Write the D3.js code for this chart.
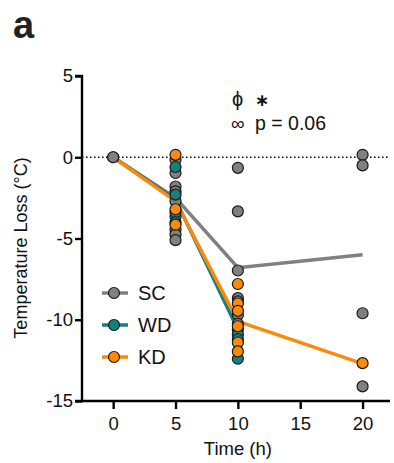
<!DOCTYPE html>
<html>
<head>
<meta charset="utf-8">
<script src="https://cdn.jsdelivr.net/npm/d3@7"></script>
<style>
  body { margin: 0; background: #fff; }
  text { font-family: "Liberation Sans", Arial, sans-serif; fill: #111; }
</style>
</head>
<body>
<div id="chart"></div>
<script>
// time points (h) and tick labels
const xTicks = [0, 5, 10, 15, 20];
const yTicks = [5, 0, -5, -10, -15];

// group means (line)
const scTimes = [0, 5, 10, 20];
const scMean = [0, -2.5, -6.8, -6.0];
const wdTimes = [0, 5, 10];
const wdMean = [0, -2.6, -10.6];
const kdTimes = [0, 5, 10, 20];
const kdMean = [0, -2.7, -10.1, -12.7];

// individual animals, by time
const sc5 = [-0.15, -0.97, -1.8, -2.1, -2.7, -3.65, -4.45, -4.75, -5.1];
const wd5 = [-0.6, -2.3, -3.4, -4.0];
const kd5 = [0.15, -3.2, -4.15];
const sc10 = [-0.65, -3.33, -6.97, -8.67, -8.87, -9.7, -10.25];
const wd10 = [-10.6, -10.9, -11.2, -12.4];
const kd10 = [-7.8, -9.0, -9.45, -10.4, -11.4, -11.95];
const sc20 = [0.15, -0.5, -9.6, -14.1];
const kd20 = [-12.67];

const groups = [
  {name: "SC", color: "#808080", times: scTimes, mean: scMean, pts: [[0, [0]], [5, sc5], [10, sc10], [20, sc20]]},
  {name: "WD", color: "#15807d", times: wdTimes, mean: wdMean, pts: [[5, wd5], [10, wd10]]},
  {name: "KD", color: "#fb8a0c", times: kdTimes, mean: kdMean, pts: [[5, kd5], [10, kd10], [20, kd20]]}
];

const W = 394, H = 463;
const svg = d3.select("#chart").append("svg").attr("width", W).attr("height", H);

const x = d3.scaleLinear().domain([-2.5, 22.2]).range([82, 390]);
const y = d3.scaleLinear().domain([-15, 5]).range([401, 76]);

// panel letter
svg.append("text").attr("x", 13).attr("y", 38)
  .style("font-size", "38px").style("font-weight", "bold").style("fill", "#222").text("a");

// zero reference line
svg.append("line")
  .attr("x1", x(-2.5)).attr("x2", x(22.2))
  .attr("y1", y(0)).attr("y2", y(0))
  .attr("stroke", "#000").attr("stroke-width", 1.4).attr("stroke-dasharray", "1.5,2.5");

// axes
const xAxis = d3.axisBottom(x).tickValues(xTicks).tickSize(8).tickPadding(8);
const yAxis = d3.axisLeft(y).tickValues(yTicks).tickSize(7).tickPadding(2)
  .tickFormat(d => d < 0 ? "-" + Math.abs(d) : d);

const gx = svg.append("g").attr("transform", `translate(0,${y(-15)})`).call(xAxis);
const gy = svg.append("g").attr("transform", `translate(${x(-2.5)},0)`).call(yAxis);
[gx, gy].forEach(g => {
  g.select(".domain").attr("stroke", "#000").attr("stroke-width", 2.4);
  g.selectAll(".tick line").attr("stroke", "#000").attr("stroke-width", 2.4);
  g.selectAll(".tick text").style("font-size", "18.5px").style("font-family", "Liberation Sans, Arial, sans-serif").attr("fill", "#111");
});
gy.select(".domain").attr("d", `M-7,${y(5)}H0V${y(-15)}H-7`);
gx.select(".domain").attr("d", `M${x(-2.5)},0H${x(22.2)}`);

// axis titles
svg.append("text").attr("x", x(10)).attr("y", 455).attr("text-anchor", "middle")
  .style("font-size", "18.5px").text("Time (h)");
svg.append("text").attr("transform", `translate(27,248) rotate(-90)`).attr("text-anchor", "middle")
  .style("font-size", "18px").text("Temperature Loss (°C)");

// mean lines
const line = d3.line().x(d => x(d[0])).y(d => y(d[1]));
groups.forEach(g => {
  svg.append("path").datum(g.times.map((t, i) => [t, g.mean[i]]))
    .attr("d", line).attr("fill", "none").attr("stroke", g.color).attr("stroke-width", 3.5);
});

// individual points
groups.forEach(g => {
  const flat = [];
  g.pts.forEach(([t, vals]) => vals.forEach(v => flat.push([t, v])));
  svg.append("g").selectAll("circle").data(flat).join("circle")
    .attr("cx", d => x(d[0])).attr("cy", d => y(d[1])).attr("r", 5.5)
    .attr("fill", g.color).attr("stroke", "#1a1a1a").attr("stroke-width", 1.2);
});
// the shared 0 h point is drawn grey on top
svg.append("circle").attr("cx", x(0)).attr("cy", y(0)).attr("r", 5.5)
  .attr("fill", "#808080").attr("stroke", "#1a1a1a").attr("stroke-width", 1.2);

// legend
const leg = svg.append("g");
groups.forEach((g, i) => {
  const ly = 293 + i * 32;
  leg.append("line").attr("x1", 102).attr("x2", 128).attr("y1", ly).attr("y2", ly)
    .attr("stroke", g.color).attr("stroke-width", 3.5);
  leg.append("circle").attr("cx", 114).attr("cy", ly).attr("r", 5.5)
    .attr("fill", g.color).attr("stroke", "#1a1a1a").attr("stroke-width", 1.2);
  leg.append("text").attr("x", 138).attr("y", ly + 7).style("font-size", "20px").text(g.name);
});

// significance annotations
svg.append("text").attr("x", 232).attr("y", 106).style("font-size", "20px").text("ϕ");
svg.append("text").attr("x", 255).attr("y", 106).style("font-size", "17px").style("font-weight", "bold")
  .style("font-family", "DejaVu Sans, sans-serif").text("∗");
svg.append("text").attr("x", 231).attr("y", 130).style("font-size", "19px").text("∞");
svg.append("text").attr("x", 255).attr("y", 130).style("font-size", "19.5px").text("p = 0.06");
</script>
</body>
</html>
